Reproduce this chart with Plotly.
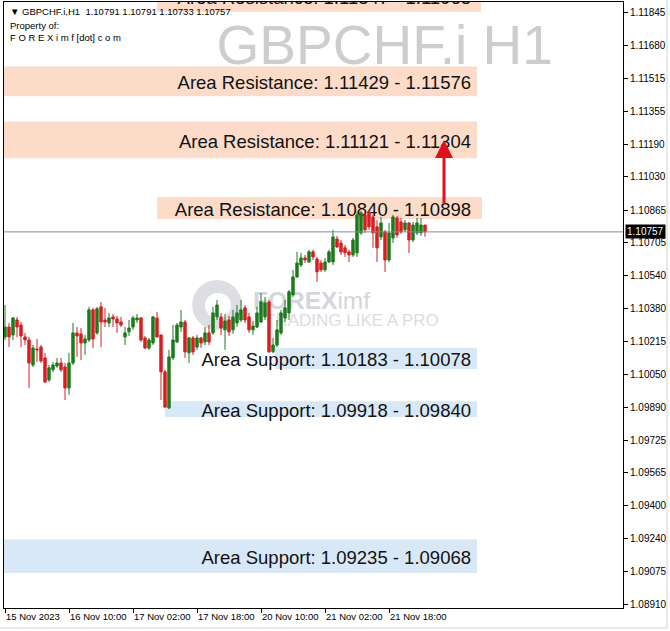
import plotly.graph_objects as go

# ---------------- data ----------------
bar_index = list(range(106))

opens = [1.10237, 1.10286, 1.10247, 1.10321, 1.10296, 1.10237, 1.10222, 1.10098, 1.10177, 1.10187,
         1.10133, 1.10024, 1.10074, 1.10093, 1.10108, 1.10088, 1.09984, 1.10108, 1.10257, 1.10252,
         1.10207, 1.10222, 1.10371, 1.10257, 1.10386, 1.10321, 1.10306, 1.10336, 1.10326, 1.10311,
         1.10237, 1.10262, 1.10286, 1.10321, 1.10331, 1.10232, 1.10182, 1.10207, 1.10331, 1.10247,
         1.10064, 1.09885, 1.10133, 1.10212, 1.10286, 1.10311, 1.10158, 1.10232, 1.10187, 1.10232,
         1.10212, 1.10257, 1.10257, 1.10336, 1.10336, 1.10272, 1.10321, 1.10272, 1.10306, 1.10321,
         1.10381, 1.10336, 1.10272, 1.10286, 1.10311, 1.10336, 1.10410, 1.10163, 1.10197, 1.10257,
         1.10331, 1.10356, 1.10445, 1.10534, 1.10593, 1.10628, 1.10608, 1.10658, 1.10623, 1.10603,
         1.10569, 1.10608, 1.10608, 1.10722, 1.10702, 1.10678, 1.10658, 1.10643, 1.10653, 1.10752,
         1.10841, 1.10856, 1.10831, 1.10782, 1.10732, 1.10757, 1.10618, 1.10727, 1.10826, 1.10806,
         1.10767, 1.10801, 1.10717, 1.10752, 1.10752, 1.10791]
highs = [1.10395, 1.10306, 1.10336, 1.10336, 1.10311, 1.10257, 1.10237, 1.10197, 1.10227, 1.10197,
         1.10158, 1.10098, 1.10113, 1.10133, 1.10133, 1.10108, 1.10158, 1.10306, 1.10286, 1.10281,
         1.10247, 1.10386, 1.10381, 1.10386, 1.10410, 1.10381, 1.10356, 1.10351, 1.10341, 1.10336,
         1.10286, 1.10321, 1.10341, 1.10351, 1.10336, 1.10242, 1.10232, 1.10341, 1.10361, 1.10247,
         1.10074, 1.10173, 1.10296, 1.10306, 1.10371, 1.10321, 1.10237, 1.10242, 1.10247, 1.10237,
         1.10286, 1.10296, 1.10386, 1.10420, 1.10356, 1.10351, 1.10341, 1.10371, 1.10395, 1.10420,
         1.10395, 1.10356, 1.10316, 1.10386, 1.10455, 1.10435, 1.10420, 1.10232, 1.10321, 1.10371,
         1.10420, 1.10470, 1.10569, 1.10658, 1.10653, 1.10643, 1.10668, 1.10668, 1.10633, 1.10618,
         1.10628, 1.10668, 1.10767, 1.10737, 1.10717, 1.10692, 1.10668, 1.10727, 1.10856, 1.10861,
         1.10856, 1.10866, 1.10841, 1.10816, 1.10831, 1.10767, 1.10801, 1.10841, 1.10836, 1.10826,
         1.10816, 1.10806, 1.10806, 1.10826, 1.10826, 1.10791]
lows = [1.10222, 1.10187, 1.10222, 1.10237, 1.10187, 1.10197, 1.09984, 1.10088, 1.10113, 1.10108,
        1.10009, 1.10014, 1.10064, 1.10084, 1.10064, 1.09925, 1.09950, 1.10098, 1.10138, 1.10123,
        1.10148, 1.10212, 1.10182, 1.10247, 1.10187, 1.10286, 1.10286, 1.10286, 1.10257, 1.10286,
        1.10197, 1.10242, 1.10272, 1.10306, 1.10212, 1.10177, 1.10173, 1.10197, 1.10232, 1.09925,
        1.09885, 1.09880, 1.10123, 1.10207, 1.10262, 1.10133, 1.10108, 1.10148, 1.10173, 1.10182,
        1.10197, 1.10197, 1.10247, 1.10321, 1.10247, 1.10173, 1.10242, 1.10252, 1.10286, 1.10311,
        1.10306, 1.10257, 1.10247, 1.10281, 1.10306, 1.10321, 1.10158, 1.10158, 1.10187, 1.10247,
        1.10311, 1.10321, 1.10435, 1.10529, 1.10583, 1.10603, 1.10603, 1.10618, 1.10509, 1.10559,
        1.10559, 1.10603, 1.10593, 1.10678, 1.10643, 1.10633, 1.10608, 1.10633, 1.10633, 1.10742,
        1.10752, 1.10767, 1.10678, 1.10608, 1.10717, 1.10559, 1.10608, 1.10702, 1.10727, 1.10747,
        1.10757, 1.10653, 1.10707, 1.10742, 1.10737, 1.10733]
closes = [1.10286, 1.10237, 1.10331, 1.10286, 1.10242, 1.10222, 1.10108, 1.10182, 1.10173, 1.10118,
          1.10014, 1.10084, 1.10098, 1.10108, 1.10074, 1.09984, 1.10108, 1.10257, 1.10242, 1.10207,
          1.10227, 1.10371, 1.10227, 1.10376, 1.10311, 1.10311, 1.10331, 1.10326, 1.10306, 1.10296,
          1.10257, 1.10281, 1.10331, 1.10331, 1.10222, 1.10182, 1.10222, 1.10336, 1.10237, 1.10064,
          1.09890, 1.10138, 1.10222, 1.10296, 1.10311, 1.10163, 1.10232, 1.10163, 1.10232, 1.10207,
          1.10257, 1.10212, 1.10356, 1.10395, 1.10281, 1.10316, 1.10262, 1.10336, 1.10356, 1.10371,
          1.10321, 1.10272, 1.10291, 1.10356, 1.10410, 1.10405, 1.10163, 1.10197, 1.10272, 1.10356,
          1.10381, 1.10460, 1.10534, 1.10603, 1.10628, 1.10618, 1.10658, 1.10633, 1.10559, 1.10569,
          1.10608, 1.10658, 1.10732, 1.10682, 1.10658, 1.10653, 1.10643, 1.10717, 1.10841, 1.10851,
          1.10767, 1.10782, 1.10752, 1.10678, 1.10801, 1.10618, 1.10752, 1.10831, 1.10742, 1.10757,
          1.10801, 1.10717, 1.10791, 1.10801, 1.10791, 1.10757]

x_tick_index = [0, 16, 32, 48, 64, 80, 96]
x_tick_labels = ["15 Nov 2023", "16 Nov 10:00", "17 Nov 02:00", "17 Nov 18:00",
                 "20 Nov 10:00", "21 Nov 02:00", "21 Nov 18:00"]

y_tick_values = [1.11845, 1.11680, 1.11515, 1.11355, 1.11190, 1.11030, 1.10865, 1.10705,
                 1.10540, 1.10380, 1.10215, 1.10050, 1.09890, 1.09725, 1.09565, 1.09400,
                 1.09240, 1.09075, 1.08910]
y_tick_labels = ["%.5f" % v for v in y_tick_values]

last_price = 1.10757

# zones: label text, drawn rectangle low/high, start/end bar, kind
zone_labels = ["Area Resistance: 1.11847 - 1.11968",
               "Area Resistance: 1.11429 - 1.11576",
               "Area Resistance: 1.11121 - 1.11304",
               "Area Resistance: 1.10840 - 1.10898",
               "Area Support: 1.10183 - 1.10078",
               "Area Support: 1.09918 - 1.09840",
               "Area Support: 1.09235 - 1.09068"]
zone_low = [1.11847, 1.11429, 1.11121, 1.10821, 1.10078, 1.09840, 1.09068]
zone_high = [1.12005, 1.11576, 1.11304, 1.10930, 1.10183, 1.09918, 1.09235]
zone_start = [38, -1, -1, 38, 67.5, 40, -1]
zone_end = [119, 118, 118, 119.25, 118, 118, 118]
zone_kind = ["res", "res", "res", "res", "sup", "sup", "sup"]

arrow_bar = 109.75
arrow_from = 1.10890
arrow_to = 1.11212

# ---------------- figure ----------------
GREEN = "#1d7a1d"
RED = "#d81e22"
RES_FILL = "#fcdcc9"
SUP_FILL = "#d9e8f7"
FONT = "Liberation Sans, Arial, DejaVu Sans, sans-serif"

fig = go.Figure()
fig.add_trace(go.Candlestick(
    x=bar_index, open=opens, high=highs, low=lows, close=closes,
    increasing=dict(line=dict(color=GREEN, width=1), fillcolor=GREEN),
    decreasing=dict(line=dict(color=RED, width=1), fillcolor=RED),
    whiskerwidth=0, showlegend=False, hoverinfo="skip",
))

shapes = []
for lo, hi, s, e, k in zip(zone_low, zone_high, zone_start, zone_end, zone_kind):
    shapes.append(dict(type="rect", xref="x", yref="y", x0=s, x1=e, y0=lo, y1=hi,
                       fillcolor=RES_FILL if k == "res" else SUP_FILL,
                       line=dict(width=0), layer="below"))
for txt, lo, hi in zip(zone_labels, zone_low, zone_high):
    shapes.append(dict(type="rect", xref="x", yref="y", x0=0, x1=118, y0=lo, y1=hi,
                       line=dict(width=0), fillcolor="rgba(0,0,0,0)", layer="below",
                       label=dict(text=txt, textposition="middle right", padding=3,
                                  font=dict(family=FONT, size=18.5, color="#111111"))))

# watermark symbol text
shapes.append(dict(type="rect", xref="paper", yref="paper", x0=0.3, x1=0.93, y0=0.90, y1=0.975,
                   line=dict(width=0), fillcolor="rgba(0,0,0,0)", layer="below",
                   label=dict(text="GBPCHF.i H1", textposition="middle center",
                              font=dict(family=FONT, size=55, color="#cdcdcd"))))
# logo watermark
shapes.append(dict(type="circle", xref="x", yref="y", x0=46.8, x1=59.2, y0=1.10272, y1=1.10519,
                   line=dict(width=0), fillcolor="#dcdee3", layer="below"))
shapes.append(dict(type="circle", xref="x", yref="y", x0=50.0, x1=56.5, y0=1.10330, y1=1.10455,
                   line=dict(width=0), fillcolor="#ffffff", layer="below"))
shapes.append(dict(type="rect", xref="x", yref="y", x0=61.25, x1=100, y0=1.10370, y1=1.10490,
                   line=dict(width=0), fillcolor="rgba(0,0,0,0)", layer="below",
                   label=dict(text="<b>FOREX</b>imf", textposition="middle left", padding=0,
                              font=dict(family=FONT, size=24.5, color="#d4d6dc"))))
shapes.append(dict(type="rect", xref="x", yref="y", x0=64.25, x1=110, y0=1.10290, y1=1.10370,
                   line=dict(width=0), fillcolor="rgba(0,0,0,0)", layer="below",
                   label=dict(text="TRADING LIKE A PRO", textposition="middle left", padding=0,
                              font=dict(family=FONT, size=17, color="#dadce1"))))

# current price line
shapes.append(dict(type="line", xref="paper", yref="y", x0=0, x1=1, y0=last_price, y1=last_price,
                   line=dict(color="#7e8c9a", width=1), layer="above"))
# outer window frame
shapes.append(dict(type="line", xref="paper", yref="paper", x0=1.0711, x1=1.0711, y0=-0.033, y1=1.01,
                   line=dict(color="#d4d4d4", width=1)))
shapes.append(dict(type="line", xref="paper", yref="paper", x0=-0.01, x1=1.0711, y0=-0.033, y1=-0.033,
                   line=dict(color="#d4d4d4", width=1)))

annotations = [
    dict(xref="paper", yref="paper", x=0.0065, y=0.9835, xanchor="left", yanchor="middle",
         text="\u25bc GBPCHF.i,H1\u00a0\u00a01.10791 1.10791 1.10733 1.10757", showarrow=False,
         font=dict(family=FONT, size=9.5, color="#000000")),
    dict(xref="paper", yref="paper", x=0.0065, y=0.962, xanchor="left", yanchor="middle",
         text="Property of:", showarrow=False, font=dict(family=FONT, size=9.5, color="#000000")),
    dict(xref="paper", yref="paper", x=0.0065, y=0.942, xanchor="left", yanchor="middle",
         text="F O R E X i m f [dot] c o m", showarrow=False,
         font=dict(family=FONT, size=9.5, color="#000000")),
    dict(xref="paper", yref="y", x=1.003, y=last_price, xanchor="left", yanchor="middle",
         text=f"{last_price:.5f}", showarrow=False, bgcolor="#000000", borderpad=1,
         font=dict(family=FONT, size=10, color="#ffffff")),
    dict(xref="x", yref="y", x=arrow_bar, y=arrow_to, axref="x", ayref="y",
         ax=arrow_bar, ay=arrow_from, text="", showarrow=True, arrowhead=2,
         arrowsize=1.2, arrowwidth=3, arrowcolor="#e0101c", standoff=0),
]

fig.update_layout(
    width=670, height=631,
    margin=dict(l=4, r=47, t=2, b=23, autoexpand=False),
    paper_bgcolor="#ffffff", plot_bgcolor="#ffffff",
    showlegend=False, boxgap=0.15,
    shapes=shapes, annotations=annotations,
    font=dict(family=FONT, color="#000000"),
    xaxis=dict(range=[-0.25, 154.5], rangeslider=dict(visible=False), showgrid=False,
               zeroline=False, tickmode="array", tickvals=x_tick_index, ticktext=x_tick_labels,
               ticks="outside", ticklen=4, tickcolor="#000000", ticklabelposition="outside right",
               tickangle=0, automargin=False,
               tickfont=dict(family=FONT, size=9.5, color="#000000"),
               showline=True, linecolor="#000000", linewidth=1, mirror=True, fixedrange=True),
    yaxis=dict(range=[1.08895, 1.11895], side="right", showgrid=False, zeroline=False,
               tickmode="array", tickvals=y_tick_values, ticktext=y_tick_labels,
               ticks="outside", ticklen=4, tickcolor="#000000", automargin=False,
               tickfont=dict(family=FONT, size=10, color="#000000"),
               showline=True, linecolor="#000000", linewidth=1, mirror=True, fixedrange=True),
)

fig.write_html("out.html", config={"displayModeBar": False},
               post_script="document.body.style.margin='0';document.body.style.overflow='hidden';")
